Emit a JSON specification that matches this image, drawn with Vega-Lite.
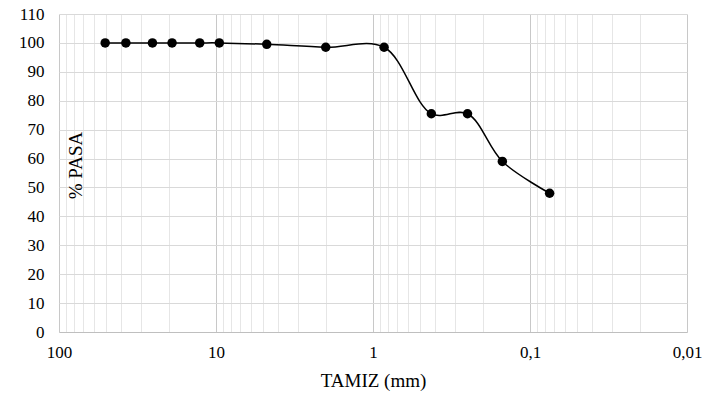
{
  "$schema": "https://vega.github.io/schema/vega-lite/v6.json",
  "width": 628,
  "height": 318,
  "autosize": "none",
  "padding": {"left": 59, "top": 14, "right": 17, "bottom": 62},
  "background": "white",
  "config": {
    "font": "Liberation Serif",
    "view": {"stroke": null},
    "axis": {"labelFont": "Liberation Serif", "titleFont": "Liberation Serif"}
  },
  "data": {
    "values": [
      {"tamiz": 50.8, "pasa": 100},
      {"tamiz": 37.5, "pasa": 100},
      {"tamiz": 25.4, "pasa": 100},
      {"tamiz": 19.05, "pasa": 100},
      {"tamiz": 12.7, "pasa": 100},
      {"tamiz": 9.525, "pasa": 100},
      {"tamiz": 4.75, "pasa": 99.5},
      {"tamiz": 2.0, "pasa": 98.5},
      {"tamiz": 0.85, "pasa": 98.5},
      {"tamiz": 0.425, "pasa": 75.5},
      {"tamiz": 0.25, "pasa": 75.5},
      {"tamiz": 0.15, "pasa": 59},
      {"tamiz": 0.075, "pasa": 48}
    ]
  },
  "encoding": {
    "x": {
      "field": "tamiz",
      "type": "quantitative",
      "scale": {"type": "log", "domain": [100, 0.01], "nice": false},
      "axis": {
        "title": "TAMIZ (mm)",
        "titleFontSize": 19,
        "titleFontWeight": "normal",
        "titleColor": "#000",
        "titlePadding": 11,
        "labelFontSize": 17,
        "labelColor": "#000",
        "labelPadding": 12,
        "labelFlush": false,
        "labelOverlap": false,
        "ticks": false,
        "domain": true,
        "domainColor": "#bfbfbf",
        "values": [100, 90, 80, 70, 60, 50, 40, 30, 20, 10, 9, 8, 7, 6, 5, 4, 3, 2, 1, 0.9, 0.8, 0.7, 0.6, 0.5, 0.4, 0.3, 0.2, 0.1, 0.09, 0.08, 0.07, 0.06, 0.05, 0.04, 0.03, 0.02, 0.01],
        "labelExpr": "abs(log(datum.value)/LN10 - round(log(datum.value)/LN10)) < 1e-6 ? replace(format(datum.value, '~g'), '.', ',') : ''",
        "grid": true,
        "gridColor": {
          "condition": {"test": "abs(log(datum.value)/LN10 - round(log(datum.value)/LN10)) < 1e-6", "value": "#c8c8c8"},
          "value": "#e6e6e6"
        },
        "gridWidth": 1
      }
    },
    "y": {
      "field": "pasa",
      "type": "quantitative",
      "scale": {"domain": [0, 110], "nice": false},
      "axis": {
        "title": "% PASA",
        "titleFontSize": 19,
        "titleFontWeight": "normal",
        "titleColor": "#000",
        "titleX": 16,
        "titleY": 151,
        "titleAlign": "center",
        "titleAngle": -90,
        "titleBaseline": "middle",
        "labelFontSize": 17,
        "labelColor": "#000",
        "labelPadding": 15,
        "ticks": false,
        "domain": false,
        "values": [0, 10, 20, 30, 40, 50, 60, 70, 80, 90, 100, 110],
        "grid": true,
        "gridColor": "#d9d9d9",
        "gridWidth": 1
      }
    }
  },
  "layer": [
    {
      "mark": {"type": "line", "interpolate": "catmull-rom", "color": "#000", "strokeWidth": 1.5}
    },
    {
      "mark": {"type": "point", "filled": true, "color": "#000", "opacity": 1, "size": 90}
    }
  ]
}
